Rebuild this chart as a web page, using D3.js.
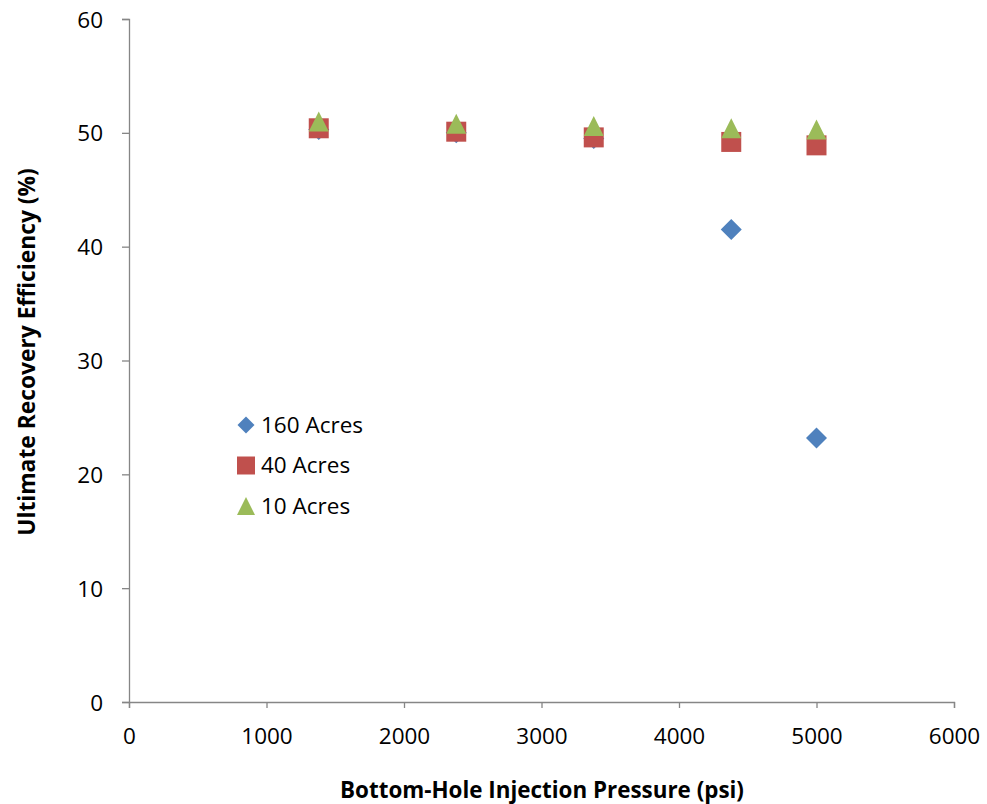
<!DOCTYPE html>
<html>
<head>
<meta charset="utf-8">
<script src="https://cdn.jsdelivr.net/npm/d3@7"></script>
<style>
  html, body { margin: 0; padding: 0; background: #fff; }
  svg { display: block; font-family: "Open Sans", Lato, sans-serif; }
</style>
</head>
<body>
<svg id="chart" width="987" height="804"></svg>
<script>
// Bottom-hole injection pressure (psi) for each run
const pressures = [1380, 2380, 3380, 4380, 5000];

// Ultimate recovery efficiency (%) by well spacing
const acres160 = [50.3, 50.0, 49.5, 41.5, 23.2];
const acres40  = [50.4, 50.1, 49.6, 49.2, 48.9];
const acres10  = [51.0, 50.8, 50.6, 50.4, 50.3];

const seriesNames  = ["160 Acres", "40 Acres", "10 Acres"];
const seriesColors = ["#4F81BD", "#C0504D", "#9BBB59"];

const xTicks = [0, 1000, 2000, 3000, 4000, 5000, 6000];
const yTicks = [0, 10, 20, 30, 40, 50, 60];

const xTitle = "Bottom-Hole Injection Pressure (psi)";
const yTitle = "Ultimate Recovery Efficiency (%)";

// Marker shapes, each drawn inside a box of width w and height h centred on the point
function diamond(w) {
  return `M0,${-w / 2}L${w / 2},0L0,${w / 2}L${-w / 2},0Z`;
}
function square(w) {
  return `M${-w / 2},${-w / 2}h${w}v${w}h${-w}Z`;
}
function triangle(w, h) {
  return `M0,${-h / 2}L${w / 2},${h / 2}L${-w / 2},${h / 2}Z`;
}
const plotMarkers   = [() => diamond(21), () => square(20), () => triangle(20, 20)];
const legendMarkers = [() => diamond(17), () => square(18), () => triangle(18, 18)];

const svg = d3.select("#chart");
const plot = { left: 129, right: 954, top: 19, bottom: 702 };

const x = d3.scaleLinear().domain([0, 6000]).range([plot.left, plot.right]);
const y = d3.scaleLinear().domain([0, 60]).range([plot.bottom, plot.top]);

const axisColor = "#868686";
const labelSize = "22.5px";

// Axes
const gx = svg.append("g")
  .attr("transform", `translate(0,${plot.bottom})`)
  .call(d3.axisBottom(x).tickValues(xTicks).tickFormat(d3.format("d")).tickSizeOuter(0).tickSize(6).tickPadding(20));
const gy = svg.append("g")
  .attr("transform", `translate(${plot.left},0)`)
  .call(d3.axisLeft(y).tickValues(yTicks).tickSizeOuter(0).tickSize(7).tickPadding(19));

[gx, gy].forEach(g => {
  g.select(".domain").attr("stroke", axisColor).attr("stroke-width", 1.3);
  g.selectAll(".tick line").attr("stroke", axisColor).attr("stroke-width", 1.3);
  g.selectAll(".tick text")
    .attr("fill", "#000")
    .style("font-size", labelSize)
    .style("font-family", "'Open Sans', Lato, sans-serif");
});
gx.selectAll(".tick text").attr("dy", "0.71em");
gy.selectAll(".tick text").attr("dy", "0.36em");

// Axis titles
svg.append("text")
  .attr("x", 542).attr("y", 798)
  .attr("text-anchor", "middle")
  .style("font-size", "22.4px").style("font-weight", "bold")
  .text(xTitle);

svg.append("text")
  .attr("transform", "translate(35,352) rotate(-90)")
  .attr("text-anchor", "middle")
  .style("font-size", "22.8px").style("font-weight", "bold")
  .text(yTitle);

// Markers: 160 first, then 40, then 10 so later series sit on top
const allSeries = [acres160, acres40, acres10];

allSeries.forEach((vals, i) => {
  svg.append("g").selectAll("path")
    .data(vals.map((v, j) => ({ px: pressures[j], v })))
    .join("path")
    .attr("d", plotMarkers[i])
    .attr("transform", d => `translate(${x(d.px)},${y(d.v)})`)
    .attr("fill", seriesColors[i]);
});

// Legend
const legend = svg.append("g").attr("transform", "translate(246,425)");
seriesNames.forEach((name, i) => {
  const row = legend.append("g").attr("transform", `translate(0,${i * 40.5})`);
  row.append("path")
    .attr("d", legendMarkers[i])
    .attr("fill", seriesColors[i]);
  row.append("text")
    .attr("x", 15).attr("y", 7.5)
    .style("font-size", labelSize)
    .text(name);
});
</script>
</body>
</html>
